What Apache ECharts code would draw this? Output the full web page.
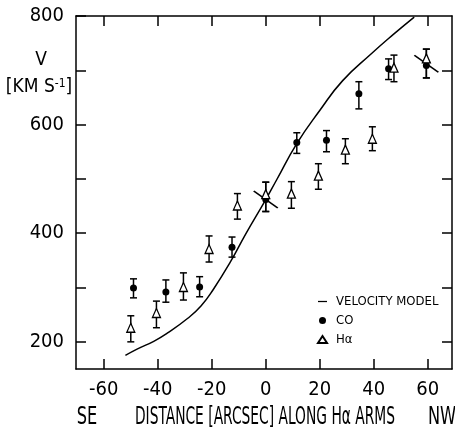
<!DOCTYPE html>
<html>
<head>
<meta charset="utf-8">
<script src="https://cdn.jsdelivr.net/npm/echarts@6/dist/echarts.min.js"></script>
<style>
  html, body { margin: 0; padding: 0; background: #fff; }
  #chart { width: 455px; height: 427px; }
</style>
</head>
<body>
<div id="chart"></div>
<script>
// velocity model curve
const modelX = [-52, -47.5, -41.5, -36.5, -29, -24, -19.5, -13, -7.5, 0, 4, 11.5, 20, 28.5, 39, 47.5, 55]
const modelV = [175, 187, 201, 216, 243, 266, 296, 348, 398, 462, 498, 565, 626, 681, 730, 767, 798]

// CO points and error bars
const coX = [-49, -37, -24.5, -12.5, 0, 11.5, 22.5, 34.5, 45.5, 59.5]
const coV = [299, 292, 301, 374, 462, 567, 571, 657, 703, 709]
const coLow = [281, 273, 283, 356, 440, 547, 550, 629, 683, 686]
const coHigh = [316, 314, 320, 393, 494, 585, 589, 679, 721, 739]

// H-alpha points and error bars
const haX = [-50, -40.5, -30.5, -21, -10.5, 0, 9.5, 19.5, 29.5, 39.5, 47.5, 59.5]
const haV = [226, 253, 301, 371, 451, 472, 473, 506, 554, 574, 705, 722]
const haLow = [200, 226, 277, 347, 426, 440, 446, 481, 528, 552, 679, 686]
const haHigh = [248, 275, 327, 395, 473, 494, 495, 528, 574, 596, 728, 739]

// centre marks
const crossX = [0, 59.5]
const crossV = [462, 712]

const xTicks = [-60, -40, -20, 0, 20, 40, 60]
const yLabels = [200, 400, 600, 800]
const yTicks = [200, 300, 400, 500, 600, 700, 800]
const yTicksRight = [200, 300, 400, 500, 600, 700]

const font = '"Liberation Sans Narrow", "DejaVu Sans Condensed", sans-serif'

const errorBar = (params, api) => {
    let x = api.value(0)
    let lo = api.coord([x, api.value(1)])
    let hi = api.coord([x, api.value(2)])
    let w = 3.5
    let style = { stroke: '#000', lineWidth: 1.5 }
    return {
        type: 'group',
        children: [
            { type: 'line', shape: { x1: lo[0], y1: lo[1], x2: hi[0], y2: hi[1] }, style: style },
            { type: 'line', shape: { x1: lo[0] - w, y1: lo[1], x2: lo[0] + w, y2: lo[1] }, style: style },
            { type: 'line', shape: { x1: hi[0] - w, y1: hi[1], x2: hi[0] + w, y2: hi[1] }, style: style }
        ]
    }
}

const zip = (a, b, c) => a.map((v, i) => c ? [v, b[i], c[i]] : [v, b[i]])

const frameLine = { onZero: false, lineStyle: { color: '#000', width: 1.5 } }
const tickStyle = { color: '#000', width: 1.5 }

let Charts = echarts.init(document.getElementById('chart'))
Charts.setOption({
    animation: false,
    grid: {
        left: 76,
        right: 3,
        top: 16,
        bottom: 58
    },
    legend: {
        orient: 'vertical',
        left: 312,
        top: 290,
        itemWidth: 9,
        itemHeight: 7,
        itemGap: 6,
        symbolKeepAspect: true,
        data: [
            { name: 'VELOCITY MODEL', icon: 'path://M0,0L10,0L10,1.4L0,1.4Z' },
            { name: 'CO' },
            { name: 'Hα' }
        ],
        textStyle: { fontFamily: font, fontSize: 13, color: '#000', padding: [0, 0, 0, 4] }
    },
    xAxis: [{
        type: 'value',
        position: 'bottom',
        min: -70.3,
        max: 69,
        axisLine: frameLine,
        axisTick: { inside: true, length: 10, customValues: xTicks, lineStyle: tickStyle },
        axisLabel: { customValues: xTicks, margin: 11, color: '#000', fontFamily: font, fontSize: 20 },
        splitLine: { show: false }
    }, {
        type: 'value',
        position: 'top',
        min: -70.3,
        max: 69,
        axisLine: frameLine,
        axisTick: { inside: true, length: 10, customValues: xTicks, lineStyle: tickStyle },
        axisLabel: { show: false },
        splitLine: { show: false }
    }],
    yAxis: [{
        type: 'value',
        position: 'left',
        min: 150,
        max: 800,
        axisLine: Object.assign({ show: true }, frameLine),
        axisTick: { show: true, inside: true, length: 10, customValues: yTicks, lineStyle: tickStyle },
        axisLabel: { customValues: yLabels, margin: 12, color: '#000', fontFamily: font, fontSize: 20 },
        splitLine: { show: false }
    }, {
        type: 'value',
        position: 'right',
        min: 150,
        max: 800,
        axisLine: Object.assign({ show: true }, frameLine),
        axisTick: { show: true, inside: true, length: 10, customValues: yTicksRight, lineStyle: tickStyle },
        axisLabel: { show: false },
        splitLine: { show: false }
    }],
    graphic: [
        { type: 'text', x: 41, y: 60, style: { text: 'V', fontFamily: font, fontSize: 19, fill: '#000', align: 'center', verticalAlign: 'middle' } },
        { type: 'text', x: 39, y: 87, style: {
            text: '[KM S{sup|-1}]',
            fontFamily: font, fontSize: 19, fill: '#000', align: 'center', verticalAlign: 'middle',
            rich: { sup: { fontFamily: font, fontSize: 12, verticalAlign: 'top', padding: [0, 0, 6, 0] } }
        } },
        { type: 'text', x: 87, y: 418, scaleX: 0.75, style: { text: 'SE', fontFamily: font, fontSize: 24, fill: '#000', align: 'center', verticalAlign: 'middle' } },
        { type: 'text', x: 265, y: 418, scaleX: 0.64, style: { text: 'DISTANCE [ARCSEC] ALONG Hα ARMS', fontFamily: font, fontSize: 24, fill: '#000', align: 'center', verticalAlign: 'middle' } },
        { type: 'text', x: 442, y: 418, scaleX: 0.75, style: { text: 'NW', fontFamily: font, fontSize: 24, fill: '#000', align: 'center', verticalAlign: 'middle' } }
    ],
    series: [{
        name: 'VELOCITY MODEL',
        type: 'line',
        data: zip(modelX, modelV),
        smooth: true,
        symbol: 'none',
        lineStyle: { color: '#000', width: 1.5 },
        itemStyle: { color: '#000' },
        z: 2
    }, {
        name: 'CO bars',
        type: 'custom',
        renderItem: errorBar,
        data: zip(coX, coLow, coHigh),
        encode: { x: 0, y: [1, 2] },
        z: 3
    }, {
        name: 'Hα bars',
        type: 'custom',
        renderItem: errorBar,
        data: zip(haX, haLow, haHigh),
        encode: { x: 0, y: [1, 2] },
        z: 3
    }, {
        name: 'CO',
        type: 'scatter',
        data: zip(coX, coV),
        symbol: 'circle',
        symbolSize: 7,
        itemStyle: { color: '#000', opacity: 1 },
        z: 5
    }, {
        name: 'Hα',
        type: 'scatter',
        data: zip(haX, haV),
        symbol: 'triangle',
        symbolSize: [8, 9],
        itemStyle: { color: '#fff', borderColor: '#000', borderWidth: 1.3, opacity: 1 },
        z: 6
    }, {
        name: 'centre',
        type: 'scatter',
        data: zip(crossX, crossV),
        symbol: 'path://M0,0L24,18',
        symbolSize: [24, 17],
        itemStyle: { color: 'none', borderColor: '#000', borderWidth: 1.5, opacity: 1 },
        z: 4
    }]
})
</script>
</body>
</html>
